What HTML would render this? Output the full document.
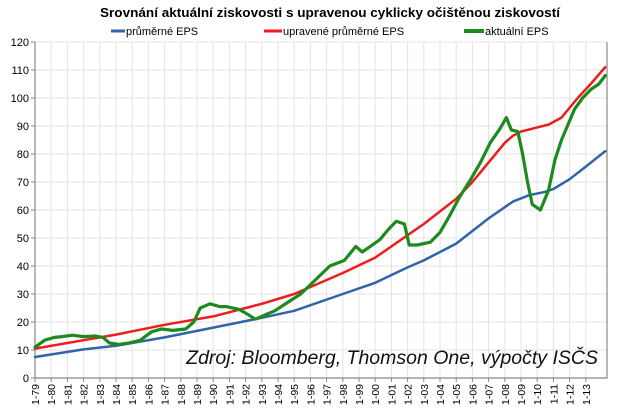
<!DOCTYPE html>
<html><head><meta charset="utf-8"><style>
body{margin:0;background:#fff;font-family:"Liberation Sans",sans-serif}
svg{display:block}
</style></head><body>
<svg id="c" width="640" height="419">
<text x="330" y="17" text-anchor="middle" font-size="12.5" font-weight="bold" fill="#000" textLength="460" lengthAdjust="spacingAndGlyphs">Srovnání aktuální ziskovosti s upravenou cyklicky očištěnou ziskovostí</text>
<g font-size="11" fill="#000">
<line x1="111" y1="31" x2="125" y2="31" stroke="#2f64a8" stroke-width="3"/>
<text x="126" y="35">průměrné EPS</text>
<line x1="264" y1="31" x2="282" y2="31" stroke="#ee1c1c" stroke-width="3"/>
<text x="283" y="35">upravené průměrné EPS</text>
<line x1="464" y1="31" x2="484" y2="31" stroke="#1e8a1e" stroke-width="4"/>
<text x="485" y="35">aktuální EPS</text>
</g>
<g id="grid"></g><g id="axes"></g><g id="series"></g>
<text x="598" y="364" text-anchor="end" font-size="19.5" font-style="italic" fill="#111">Zdroj: Bloomberg, Thomson One, výpočty ISČS</text>
</svg>
<script>
const yTicks=[0,10,20,30,40,50,60,70,80,90,100,110,120];
const xLabels=["1-79","1-80","1-81","1-82","1-83","1-84","1-85","1-86","1-87","1-88","1-89","1-90","1-91","1-92","1-93","1-94","1-95","1-96","1-97","1-98","1-99","1-00","1-01","1-02","1-03","1-04","1-05","1-06","1-07","1-08","1-09","1-10","1-11","1-12","1-13"];
const blueYears=[1979,1982,1984,1987,1990,1993,1995,1998,2000,2002,2003,2005,2006,2007,2008,2008.5,2009.5,2010.5,2011,2012,2013,2014.2];
const blueVals=[7.5,10.2,11.5,14.5,18,21.5,24,30,34,39.5,42,48,52.5,57,61,63,65.3,66.5,67.5,71,75.5,81];
const redYears=[1979,1982,1984,1987,1990,1993,1995,1998,2000,2002,2003,2005,2006,2007,2008,2008.5,2009,2010,2010.7,2011.5,2012.5,2013.3,2014.2];
const redVals=[10.5,13.5,15.5,19,22,26.5,30,37.5,43,51,55,64,70,77,84,86.5,88,89.5,90.5,93,100,105,111];
const greenYears=[1979,1979.6,1980.2,1980.7,1981.3,1982,1982.7,1983.2,1983.6,1984.2,1984.8,1985.5,1986.2,1986.8,1987.5,1988.3,1988.8,1989.2,1989.8,1990.4,1990.8,1991.6,1992.2,1992.6,1993.2,1993.8,1994.6,1995.4,1996.3,1997.2,1998.1,1998.8,1999.2,1999.7,2000.3,2000.8,2001.3,2001.8,2002.1,2002.6,2003.4,2004,2004.6,2005.2,2005.9,2006.5,2007.1,2007.7,2008.1,2008.4,2008.8,2009.1,2009.4,2009.7,2010.2,2010.7,2011.1,2011.5,2012.3,2012.8,2013.3,2013.8,2014.2];
const greenVals=[11,13.5,14.5,14.8,15.3,14.8,15,14.5,12.5,12,12.5,13.5,16.5,17.5,17,17.5,20,25,26.5,25.5,25.5,24.5,22.5,21,22.5,24,27,30,35,40,42,47,45,47,49.5,53,56,55,47.5,47.5,48.5,52,58,64.5,71,77,84,89,93,88.6,88,80,70,62,60,67,78,85,96,100,103,105,108];
const L=35,R=607,T=42,B=378;
const X=yr=>L+(yr-1979)*16.2;
const Y=v=>B-(v/120)*(B-T);
const NS="http://www.w3.org/2000/svg";
function mk(t,a,p){const e=document.createElementNS(NS,t);for(const k in a)e.setAttribute(k,a[k]);p.appendChild(e);return e;}
const grid=document.getElementById('grid'),axes=document.getElementById('axes'),ser=document.getElementById('series');
yTicks.forEach(v=>{
 const g=mk('line',{x1:L,x2:R,y1:Y(v),y2:Y(v),stroke:'#e3e3e3','stroke-width':1},grid);
 
 
 const t=mk('text',{x:L-6,y:Y(v)+4,'text-anchor':'end','font-size':11,fill:'#000'},axes);
 t.textContent=v;
 
 
 mk('line',{x1:L-4,x2:L,y1:Y(v),y2:Y(v),stroke:'#888'},axes);
});
xLabels.forEach((s,i)=>{
 const x=X(1979+i);
 const g=mk('line',{x1:x,x2:x,y1:T,y2:B,stroke:'#e3e3e3','stroke-width':1},grid);
 
 
 mk('line',{x1:x,x2:x,y1:B,y2:B+4,stroke:'#888'},axes);
 const t=mk('text',{x:0,y:0,'text-anchor':'end','font-size':10.5,fill:'#000',transform:`translate(${x+4},${B+6}) rotate(-90)`},axes);
 t.textContent=s;
 
 
});
const ax=mk('path',{d:`M${L},${T}V${B}H${R}V${T}`,fill:'none',stroke:'#888','stroke-width':1.2},axes);


function line(xs,vs,col,w,name){
 const d=xs.map((x,i)=>(i?'L':'M')+X(x).toFixed(1)+','+Y(vs[i]).toFixed(1)).join('');
 const p=mk('path',{d:d,fill:'none',stroke:col,'stroke-width':w,'stroke-linejoin':'round','stroke-linecap':'round'},ser);
 
 
}
line(blueYears,blueVals,'#2f64a8',2.5,'series-prumerne-eps');
line(redYears,redVals,'#ee1c1c',2.5,'series-upravene-eps');
line(greenYears,greenVals,'#1e8a1e',3.2,'series-aktualni-eps');
</script>
</body></html>
